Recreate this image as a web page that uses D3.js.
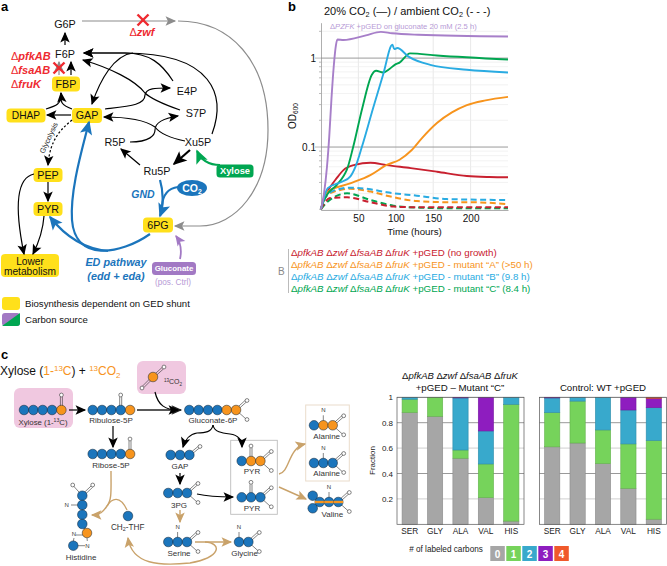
<!DOCTYPE html>
<html><head><meta charset="utf-8">
<script src="https://cdn.jsdelivr.net/npm/d3@7/dist/d3.min.js"></script>
<style>html,body{margin:0;padding:0;background:#fff}svg{display:block}text{font-family:"Liberation Sans",Arial,sans-serif}</style>
</head><body><svg id="c" width="667" height="566" viewBox="0 0 667 566"></svg>
<script>
// ---------- growth curves (hours, OD600)
const gPurpleT=[0,4,8,11,14,17,20,22,30,60,80,95,130,250];
const gPurpleV=[.02,.03,.06,.13,.35,.8,1.4,1.62,1.6,1.8,1.97,1.9,1.83,1.75];
const gGreenT=[0,3,8,21,30,34.6,43,55,68,73.7,83,92,100,105,119,155,250];
const gGreenV=[.02,.024,.029,.0374,.047,.0556,.1,.27,.65,.72,.69,.76,.856,.89,1.13,1.07,.965];
const gBlueT=[0,3,9,28,39,46,54.6,70,83,95.5,98,102,117,146,195,250];
const gBlueV=[.02,.025,.0345,.0407,.0465,.06,.1,.28,.65,1.41,1.26,1.3,1.04,.84,.74,.69];
const gOrangeT=[0,3,9,39,66,88,105,121,135,155,175,195,220,250];
const gOrangeV=[.02,.025,.0315,.039,.0484,.063,.072,.092,.126,.186,.245,.296,.335,.367];
const gRedT=[0,4,10,21,30,45,66,88,120,155,195,225,250];
const gRedV=[.02,.026,.033,.0447,.055,.063,.0667,.0627,.058,.0528,.0472,.046,.0457];
const dOrangeT=[0,7,20,39,66,88,128,168,199,250];
const dOrangeV=[.02,.028,.032,.0339,.0316,.0284,.0247,.024,.024,.0228];
const dBlueT=[0,7,20,39,66,88,128,168,250];
const dBlueV=[.02,.028,.033,.0349,.0335,.031,.0284,.026,.0254];
const dGreenT=[0,8,20,35,66,97,133,170,250];
const dGreenV=[.02,.024,.028,.0302,.0254,.0219,.0208,.0205,.0205];
const dRedT=[0,12,35,66,97,133,200,250];
const dRedV=[.02,.0267,.0272,.024,.0214,.021,.021,.021];
const timeTicks=[50,100,150,200];
const odTickLabels=[1,0.1];
// ---------- labelled fraction bars
const aminoAcids=["SER","GLY","ALA","VAL","HIS"];
const carbonLabels=["0","1","2","3","4"];
const carbonColors=["#a6a6a6","#76d35b","#38a9cc","#8e1dbf","#f0592b"];
const mutant0=[.88,.85,.52,.21,.025];
const mutant1=[.105,.15,.065,.265,.92];
const mutant2=[.015,0,.41,.26,.055];
const mutant3=[0,0,.005,.265,0];
const mutant4=[0,0,0,0,0];
const control0=[.61,.64,.478,.283,.04];
const control1=[.27,.33,.265,.35,.62];
const control2=[.115,.03,.257,.267,.258];
const control3=[.005,0,0,.10,.074];
const control4=[0,0,0,0,.008];
const fractionTicks=[.2,.4,.6,.8,1];

const svg=d3.select("#c"), defs=svg.append("defs");
const YEL="#ffe01b",BLU="#1b75bc",RED="#ee2a30",GRN="#00a651",PUR="#a279c4",GRY="#8c8c8c",TAN="#c9a26a";
const markers={};
function marker(col,big){
  const key=col+(big?"b":"");
  if(markers[key])return markers[key];
  const id="m"+Object.keys(markers).length;markers[key]=id;
  const sz=big?17:13;
  defs.append("marker").attr("id",id).attr("markerUnits","userSpaceOnUse").attr("markerWidth",sz).attr("markerHeight",sz)
    .attr("viewBox","-1 -5 11 10").attr("refX",8).attr("refY",0).attr("orient","auto")
    .append("path").attr("d","M0,-4 L9,0 L0,4 L2,0 Z").attr("fill",col);
  return id;
}
function arrow(d,col="#000",w=1.2,opt={}){
  const p=svg.append("path").attr("d",d).attr("fill","none").attr("stroke",col).attr("stroke-width",w);
  if(!opt.noHead)p.attr("marker-end",`url(#${marker(col,w>=2)})`);
  if(opt.dash)p.attr("stroke-dasharray",opt.dash);
  return p;
}
function txt(x,y,s,o={}){
  return svg.append("text").attr("x",x).attr("y",y).attr("font-size",o.size||9).attr("fill",o.fill||"#111")
   .attr("text-anchor",o.anchor||"start").attr("font-weight",o.weight||null).attr("font-style",o.style||null)
   .attr("transform",o.rot!=null?`rotate(${o.rot} ${x} ${y})`:null).text(s);
}
function rich(x,y,parts,o={}){
  const t=txt(x,y,"",o),sz=o.size||9;let off=0;
  parts.forEach(p=>{const a=t.append("tspan").text(p.t);
    if(p.style)a.attr("font-style",p.style);
    if(p.weight)a.attr("font-weight",p.weight);
    if(p.fill)a.attr("fill",p.fill);
    const target=p.sup?-sz*.35:p.sub?sz*.22:0;
    if(p.sup||p.sub)a.attr("font-size",sz*.66);
    if(target!==off){a.attr("dy",target-off);off=target;}
  });
  return t;
}
function box(cx,cy,w,h,col,label,o={}){
  svg.append("rect").attr("x",cx-w/2).attr("y",cy-h/2).attr("width",w).attr("height",h).attr("rx",o.rx||4).attr("fill",col);
  if(label)txt(cx,cy+(o.dy||3.8),label,{anchor:"middle",size:o.size||10.7,fill:o.fill||"#111",weight:o.weight});
}

// ---------- PANEL A
txt(1,11,"a",{size:13,weight:"bold",fill:"#000"});
[["G6P",65,28],["F6P",65,58],["E4P",187,95],["S7P",196,117],["R5P",115,146],["Xu5P",198,146],["Ru5P",157,175]]
 .forEach(d=>txt(d[1],d[2],d[0],{anchor:"middle",size:10.8}));
box(66,84,28,15,YEL,"FBP");box(26,115.5,39,14,YEL,"DHAP",{size:10.2});box(87,115.5,30,15,YEL,"GAP");
box(48,175,29,14,YEL,"PEP");box(48,209,29,14,YEL,"PYR");box(158,225,30,15,YEL,"6PG");
box(30,265.5,58,23,YEL,null);
txt(30,264.5,"Lower",{anchor:"middle",size:10.2});txt(30,275,"metabolism",{anchor:"middle",size:10.2});
const del=(x,y,name,size,anchor)=>rich(x,y,[{t:"Δ"},{t:name,style:"italic",weight:"bold"}],{size,fill:RED,anchor});
del(11,60,"pfkAB",11);del(11,74,"fsaAB",11);del(11,88,"fruK",11);del(142,36,"zwf",11,"middle");
// black arrows
arrow("M65,45L65,33");arrow("M71,75L71,62");
arrow("M59,75L59,62",GRY);
arrow("M46,109C56,106 62,104 61,93");arrow("M72,109C62,105 60,103 61,93",'#000',1.2,{noHead:true});
arrow("M71,115L47,115");
arrow("M173,81C162,64 150,53 125,53L84,53");
arrow("M212,134C226,96 214,53 125,53L84,53");
arrow("M133,53C114,55 100,80 92,104");
arrow("M180,110C160,103 150,98 145,93C135,80 110,68 83,60");
arrow("M105,109C130,106 145,105 145,95C146,88 155,88 170,88");
arrow("M185,141C165,137 158,131 155,127C145,120 130,117 104,117");
arrow("M130,142C150,142 155,135 155,130C155,122 165,118 178,116");
arrow("M190,150L174,164","#000",2.2);
arrow("M140,165L121,149");
arrow("M220,165C208,165 201,160 197,151",GRN,2);
arrow("M72,120C60,130 50,140 48,165","#000",1.2,{dash:"2.2,2"});
txt(44,154,"Glycolysis",{size:7.4,rot:-65,anchor:"start",fill:"#222"});
arrow("M48,182L48,201");
arrow("M34,174C15,178 15,210 24,254");
arrow("M44,216C43,230 40,240 33,254");
// blue
arrow("M150,234C120,255 75,262 72,220C70,190 82,150 89,122",BLU,2.2);
arrow("M108,251C85,249 65,236 50,217",BLU,2.2);
arrow("M160,180C163,190 164,205 160,216",BLU,2.2);
arrow("M178,187C170,188 163,193 162,206",BLU,2,{noHead:true});
// grey
arrow("M82,21L175,21",GRY,1.2);
arrow("M178,21C230,21 268,60 268,130C268,190 235,226 200,226L175,226",GRY,1.2);
// purple
arrow("M180,259C182,250 181,243 176,236",PUR,1.8);
// red crosses
function cross(x,y,r=5.5){[[-1,-1,1,1],[-1,1,1,-1]].forEach(c=>svg.append("line")
  .attr("x1",x+c[0]*r).attr("y1",y+c[1]*r).attr("x2",x+c[2]*r).attr("y2",y+c[3]*r)
  .attr("stroke",RED).attr("stroke-width",2.4));}
cross(143,20);cross(59,68);
box(235,171,37,13,GRN,"Xylose",{fill:"#fff",weight:"bold",size:9.3,rx:3.5,dy:3.3});
svg.append("ellipse").attr("cx",192).attr("cy",188).attr("rx",15).attr("ry",8).attr("fill",BLU);
rich(192,191.5,[{t:"CO"},{t:"2",sub:true}],{size:10.5,fill:"#fff",weight:"bold",anchor:"middle"});
box(174,268.5,44,13,PUR,"Gluconate",{fill:"#fff",weight:"bold",size:7.9,rx:3.5,dy:2.8});
txt(173,285,"(pos. Ctrl)",{anchor:"middle",size:8.2,fill:"#b79ad6"});
txt(143,198,"GND",{anchor:"middle",size:10.5,fill:BLU,weight:"bold",style:"italic"});
txt(116,266,"ED pathway",{anchor:"middle",size:10.8,fill:BLU,weight:"bold",style:"italic"});
txt(116,280,"(edd + eda)",{anchor:"middle",size:10.8,fill:BLU,weight:"bold",style:"italic"});
box(11,303.5,18,13,YEL,null,{rx:3});
txt(25,307,"Biosynthesis dependent on GED shunt",{size:9.6});
box(11,319.5,18,13,PUR,null,{rx:3});
svg.append("path").attr("d","M2,326 L20,313 L20,323 Q20,326 17,326 Z").attr("fill",GRN);
txt(25,323,"Carbon source",{size:9.6});

// ---------- PANEL B
txt(288,11,"b",{size:13,weight:"bold",fill:"#000"});
const xT=d3.scaleLinear().domain([0,250]).range([321,508]);
const yOD=d3.scaleLog().domain([.0196,2.5]).range([210,22.7]);
const gG=svg.append("g");
gG.selectAll(".vg").data(timeTicks).join("line").attr("x1",xT).attr("x2",xT).attr("y1",22.7).attr("y2",210).attr("stroke","#e2e2e2").attr("stroke-width",.8);
const minor=yOD.ticks().filter(v=>v>=.02&&v<=2);
gG.selectAll(".hg").data(minor).join("line").attr("x1",321).attr("x2",508).attr("y1",yOD).attr("y2",yOD)
 .attr("stroke",d=>odTickLabels.includes(d)?"#9a9a9a":"#ececec").attr("stroke-width",d=>odTickLabels.includes(d)?1:.7);
const axL=svg.append("g").attr("transform","translate(321,0)").call(d3.axisLeft(yOD).tickValues(odTickLabels).tickSize(0).tickPadding(5).tickFormat(d=>d));
axL.select(".domain").attr("stroke","#8c8c8c").attr("stroke-width",.7);
axL.selectAll("text").attr("font-size",10).attr("fill","#111").attr("font-family",'"Liberation Sans"');
svg.append("g").selectAll("line").data(minor).join("line").attr("x1",d=>odTickLabels.includes(d)?315:319).attr("x2",321).attr("y1",yOD).attr("y2",yOD).attr("stroke","#777").attr("stroke-width",.5);
const axB=svg.append("g").attr("transform","translate(0,210)").call(d3.axisBottom(xT).tickValues(timeTicks).tickSize(0).tickPadding(5));
axB.select(".domain").attr("stroke","#777").attr("stroke-width",.6);
axB.selectAll("text").attr("font-size",10).attr("fill","#111").attr("font-family",'"Liberation Sans"');
const lineGen=d3.line().x(d=>xT(d[0])).y(d=>yOD(d[1])).curve(d3.curveMonotoneX);
const sC={r:"#c8202f",o:"#f7941d",b:"#29abe2",g:"#00a651",p:"#a77fc9"};
[[dOrangeT,dOrangeV,sC.o],[dBlueT,dBlueV,sC.b],[dGreenT,dGreenV,sC.g],[dRedT,dRedV,sC.r]].forEach(s=>
  svg.append("path").attr("d",lineGen(d3.zip(s[0],s[1]))).attr("fill","none").attr("stroke",s[2]).attr("stroke-width",2).attr("stroke-dasharray","6,3.5"));
[[gRedT,gRedV,sC.r],[gOrangeT,gOrangeV,sC.o],[gGreenT,gGreenV,sC.g],[gBlueT,gBlueV,sC.b],[gPurpleT,gPurpleV,sC.p]].forEach(s=>
  svg.append("path").attr("d",lineGen(d3.zip(s[0],s[1]))).attr("fill","none").attr("stroke",s[2]).attr("stroke-width",1.9));
rich(324,15,[{t:"20% CO"},{t:"2",sub:true},{t:" (—) / ambient CO"},{t:"2",sub:true},{t:" (- - -)"}],{size:11});
rich(330,29,[{t:"Δ"},{t:"PZFK",style:"italic"},{t:" +pGED on gluconate 20 mM (2.5 h)"}],{size:7.6,fill:"#b79ad6"});
rich(296,129,[{t:"OD"},{t:"600",sub:true}],{size:10,rot:-90});
txt(414.5,235,"Time (hours)",{anchor:"middle",size:9.7});
const legendNames=[[" (no growth)",sC.r,"+pGED"],[" - mutant “A” (>50 h)",sC.o,"+pGED"],[" - mutant “B” (9.8 h)",sC.b,"+pGED"],[" - mutant “C” (8.4 h)",sC.g,"+pGED"]];
legendNames.forEach((d,i)=>rich(291,256+i*12,[{t:"Δ"},{t:"pfkAB",style:"italic"},{t:" Δ"},{t:"zwf",style:"italic"},{t:" Δ"},{t:"fsaAB",style:"italic"},{t:" Δ"},{t:"fruK",style:"italic"},{t:" "+d[2]+d[0]}],{size:9.75,fill:d[1]}));
svg.append("line").attr("x1",288.5).attr("x2",288.5).attr("y1",249).attr("y2",293).attr("stroke","#aaa").attr("stroke-width",.8);
txt(278,275,"B",{size:10,fill:"#888"});

// ---------- PANEL C : scheme
txt(1,359,"c",{size:13,weight:"bold",fill:"#000"});
rich(0,375,[{t:"Xylose ("},{t:"1-",fill:sC.o},{t:"13",sup:true,fill:sC.o},{t:"C",fill:sC.o},{t:") + "},{t:"13",sup:true,fill:sC.o},{t:"CO",fill:sC.o},{t:"2",sub:true,fill:sC.o}],{size:12});
svg.append("rect").attr("x",14).attr("y",388).attr("width",59).attr("height",40).attr("rx",6).attr("fill","#f0c8e0");
svg.append("rect").attr("x",137).attr("y",361).attr("width",49).attr("height",33).attr("rx",6).attr("fill","#f0c8e0");
svg.append("rect").attr("x",230.7).attr("y",440.3).attr("width",46.6).attr("height",74).attr("fill","none").attr("stroke","#bdbdbd").attr("stroke-width",.9);
svg.append("rect").attr("x",305.7).attr("y",405).attr("width",43.6).attr("height",76).attr("fill","none").attr("stroke","#eadccb").attr("stroke-width",1);
const B=BLU,O="#f7941d";
const bondG=svg.append("g"),atomG=svg.append("g");
function bond(x1,y1,x2,y2){bondG.append("line").attr("x1",x1).attr("y1",y1).attr("x2",x2).attr("y2",y2).attr("stroke","#333").attr("stroke-width",.6);}
function dbl(x1,y1,x2,y2){const a=Math.atan2(y2-y1,x2-x1)+Math.PI/2,dx=Math.cos(a)*1,dy=Math.sin(a)*1;bond(x1+dx,y1+dy,x2+dx,y2+dy);bond(x1-dx,y1-dy,x2-dx,y2-dy);}
function oxy(x,y){atomG.append("circle").attr("cx",x).attr("cy",y).attr("r",1.9).attr("fill","#fff").attr("stroke","#333").attr("stroke-width",.6);}
function atom(x,y,c){atomG.append("circle").attr("cx",x).attr("cy",y).attr("r",4.8).attr("fill",c).attr("stroke","#123").attr("stroke-width",.5);}
function chain(x0,y,cols,step=9.35){cols.forEach((c,i)=>atom(x0+i*step,y,c));if(cols.length>1)bond(x0,y,x0+(cols.length-1)*step,y);}
function keto(x,y){dbl(x,y,x,y-13);oxy(x,y-15);}
function carboxyl(x,y){dbl(x,y,x+10,y-9);oxy(x+11,y-9.5);bond(x,y,x+10,y+9);oxy(x+11,y+9.5);}
function amine(x,y,dirY=-1){bond(x,y,x,y+dirY*10);txt(x,y+dirY*15+2,"N",{anchor:"middle",size:6,fill:"#333"});}
const lab=(x,y,s)=>txt(x,y,s,{anchor:"middle",size:8,fill:"#333"});
chain(24,410,[B,B,B,B,O]);keto(61.4,410);
rich(43,424.5,[{t:"Xylose (1-"},{t:"13",sup:true},{t:"C)"}],{anchor:"middle",size:7.8,fill:"#333"});
chain(92.7,410,[B,B,B,B,O]);keto(120.7,410);lab(111,422.5,"Ribulose-5P");
chain(92.7,454,[B,B,B,B,O]);keto(130,454);lab(111,468,"Ribose-5P");
chain(189.3,410,[B,B,B,B,O,O]);carboxyl(236,410);lab(213,423,"Gluconate-6P");
atom(153,377,O);dbl(153,377,143,387);oxy(142,388);dbl(153,377,163,368);oxy(164,367);
rich(173,384,[{t:"13",sup:true},{t:"CO"},{t:"2",sub:true}],{anchor:"middle",size:7,fill:"#333"});
chain(170.7,455,[B,B,B]);dbl(189.3,455,199,447);oxy(200,446.5);lab(180,469,"GAP");
chain(168.3,493,[B,B,B]);carboxyl(187,493);lab(179,507.5,"3PG");
chain(168.3,542,[B,B,B]);carboxyl(187,542);amine(177.6,542);lab(179,556,"Serine");
chain(239,542,[B,B]);carboxyl(248.3,542);amine(239,542);lab(244.7,556,"Glycine");
chain(241.7,461,[B,O,O]);keto(251,461);carboxyl(260.3,461);lab(252,474,"PYR");
chain(241.7,497.3,[B,B,B]);keto(251,497.3);carboxyl(260.3,497.3);lab(252,511,"PYR");
chain(314,425.3,[B,O,O]);amine(323.3,425.3);carboxyl(332.7,425.3);lab(326.7,438.5,"Alanine");
chain(314,463,[B,B,B]);amine(323.3,463);carboxyl(332.7,463);lab(326.7,476,"Alanine");
// valine: half labelled circles
atom(312.7,495.7,B);atom(312.7,508.3,B);
[319.7,329,338.3].forEach(x=>{atom(x,502,B);
  atomG.append("path").attr("d",`M${x-4.8},502 L${x+4.8},502`).attr("stroke",O).attr("stroke-width",2.4);});
amine(329,502);carboxyl(338.3,502);lab(332.3,516.5,"Valine");
// histidine
[495.7,505,514.7,524].forEach(y=>atom(82.3,y,B));bond(82.3,495,82.3,524);
atom(87,533,O);atom(73.3,545.7,B);bond(82.3,524,87,533);
dbl(82.3,495.7,92,486.5);oxy(92.7,485);bond(82.3,495.7,73.5,486);oxy(72.7,485);
bond(82.3,505,71,505);txt(66.7,507,"N",{anchor:"middle",size:6,fill:"#333"});
txt(74,536,"N",{anchor:"middle",size:6,fill:"#333"});txt(87.3,548,"N",{anchor:"middle",size:6,fill:"#333"});
bond(83,535,76,535);bond(74,538,73.3,541);bond(78,545.7,85,545.7);bond(87,538,87.3,541);
lab(81,559.5,"Histidine");
atom(128,516,B);
rich(127.7,529.5,[{t:"CH"},{t:"2",sub:true},{t:"-THF"}],{anchor:"middle",size:8.2,fill:"#333"});
// scheme arrows
arrow("M69,410L85,410");arrow("M137,410L181,410","#222",1.4);
arrow("M113,426L113,447");arrow("M155,392C158,405 165,410 178,410");
arrow("M213,425C212,432 205,433 197,433C190,434 185,440 183,447");
arrow("M213,425C214,432 222,433 230,434C238,435 242,440 242,447");
arrow("M180,473L180,484");arrow("M197,494C210,497 220,497 233,497");
arrow("M180,510L180,522",TAN,1.4);arrow("M195,542L231,542",TAN,1.4);
arrow("M279,474C290,472 288,448 305,444",TAN,1.4);arrow("M279,487L306,499",TAN,1.4);
arrow("M111,471C111,490 112,500 107,506C103,512 100,515 92,515",TAN,1.4);
arrow("M127,510C120,495 112,498 107,506",TAN,1.4,{noHead:true});
arrow("M205,542C222,543 222,557 190,563C160,566 132,565 128,538",TAN,1.4);

// ---------- PANEL C : bars
function barPanel(left,right,cols,showAxis){
  const x=d3.scaleBand().domain(aminoAcids).range([left,right]).paddingInner(.4).paddingOuter(.2);
  const y=d3.scaleLinear().domain([0,1]).range([524.3,397.3]);
  const rows=aminoAcids.map((a,i)=>{const r={a};cols.forEach((c,k)=>r[k]=c[i]);return r;});
  const st=d3.stack().keys(d3.range(5))(rows);
  const g=svg.append("g");
  g.selectAll(".gl").data(fractionTicks).join("line").attr("x1",left).attr("x2",right).attr("y1",y).attr("y2",y)
    .attr("stroke",(d,i)=>i%2?"#8d8d8d":"#c9c9c9").attr("stroke-width",.9);
  g.selectAll("g.s").data(st).join("g").attr("fill",(d,i)=>carbonColors[i]).attr("stroke",(d,i)=>d3.color(carbonColors[i]).darker(.5)).attr("stroke-width",.6)
    .selectAll("rect").data(d=>d.filter(v=>v[1]-v[0]>0)).join("rect")
    .attr("x",d=>x(d.data.a)).attr("width",x.bandwidth()).attr("y",d=>y(d[1])).attr("height",d=>y(d[0])-y(d[1]));
  g.append("rect").attr("x",left).attr("y",397.3).attr("width",right-left).attr("height",127).attr("fill","none").attr("stroke","#555").attr("stroke-width",.7);
  const ax=g.append("g").attr("transform","translate(0,524.3)").call(d3.axisBottom(x).tickSize(0).tickPadding(4));
  ax.select(".domain").remove();
  ax.selectAll("text").attr("font-size",8.3).attr("fill","#222").attr("font-family",'"Liberation Sans"');
  if(showAxis){
    const ay=g.append("g").attr("transform",`translate(${left},0)`).call(d3.axisLeft(y).tickValues(fractionTicks).tickSize(0).tickPadding(4).tickFormat(d=>d));
    ay.select(".domain").remove();
    ay.selectAll("text").attr("font-size",8).attr("fill","#222").attr("font-family",'"Liberation Sans"');
  }
}
barPanel(397,524,[mutant0,mutant1,mutant2,mutant3,mutant4],true);
barPanel(539.5,666.5,[control0,control1,control2,control3,control4],false);
rich(460,379,[{t:"Δ"},{t:"pfkAB",style:"italic"},{t:" Δ"},{t:"zwf",style:"italic"},{t:" Δ"},{t:"fsaAB",style:"italic"},{t:" Δ"},{t:"fruK",style:"italic"}],{anchor:"middle",size:9.5});
txt(460,391,"+pGED – Mutant “C”",{anchor:"middle",size:9.7});
txt(603,391,"Control: WT +pGED",{anchor:"middle",size:9.7});
txt(375,475,"Fraction",{size:8,rot:-90,fill:"#222"});
txt(446,552,"# of labeled carbons",{anchor:"middle",size:8.2,fill:"#222"});
const legX=d3.scalePoint().domain(carbonLabels).range([490.3,554.3]);
svg.append("g").selectAll("rect").data(carbonLabels).join("rect").attr("x",legX).attr("y",546).attr("width",14.5).attr("height",15).attr("fill",(d,i)=>carbonColors[i]);
svg.append("g").selectAll("text").data(carbonLabels).join("text").attr("x",d=>legX(d)+7.2).attr("y",557.5).attr("text-anchor","middle").attr("font-size",10).attr("font-weight","bold").attr("fill","#fff").text(d=>d);
</script></body></html>
